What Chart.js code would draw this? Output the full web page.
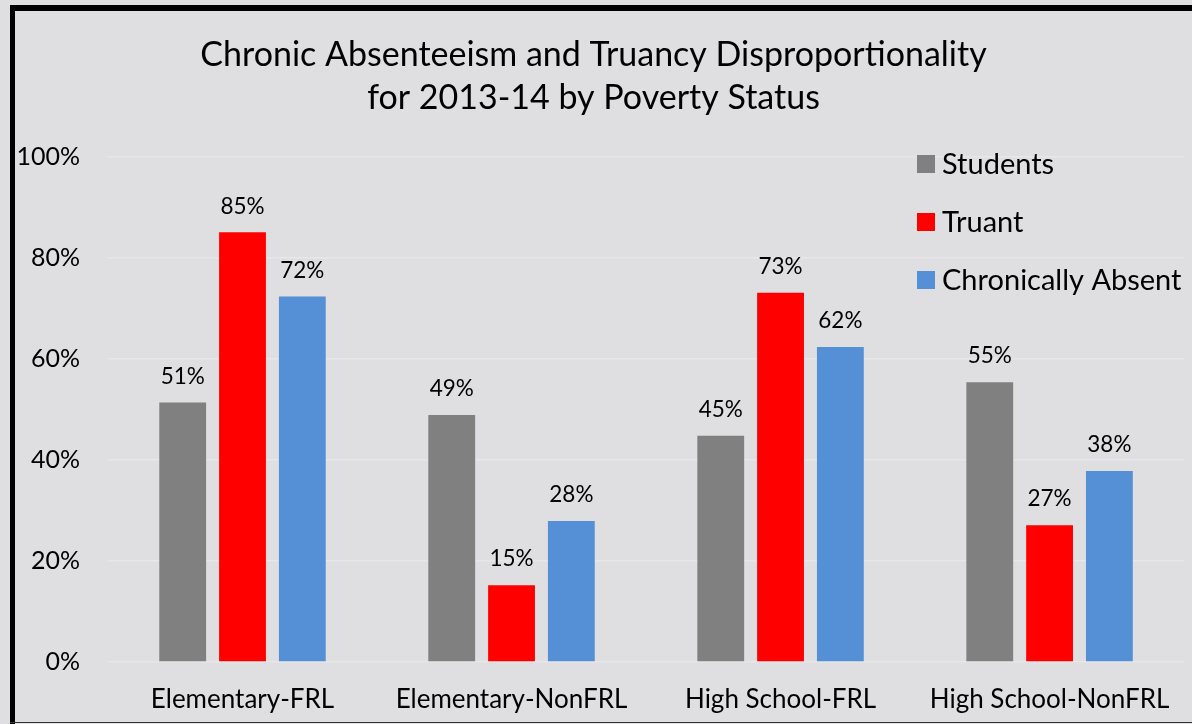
<!DOCTYPE html>
<html>
<head>
<meta charset="utf-8">
<script src="https://cdn.jsdelivr.net/npm/chart.js@4"></script>
<style>
  html, body { margin: 0; padding: 0; background: #dfdfe1; }
  #wrap { width: 1192px; height: 724px; }
</style>
</head>
<body>
<div id="wrap"><canvas id="povertyChart" width="1192" height="724"></canvas></div>
<script>
// Share of students, truants and chronically absent, by school level and FRL status
var categories = ['Elementary-FRL', 'Elementary-NonFRL', 'High School-FRL', 'High School-NonFRL'];
var studentsPct = [51.4, 48.9, 44.8, 55.4];
var truantPct = [85.1, 15.2, 73.1, 27.1];
var chronicPct = [72.4, 27.9, 62.4, 37.8];
var seriesNames = ['Students', 'Truant', 'Chronically Absent'];
var seriesColors = ['#808080', '#ff0000', '#5590d6'];

Chart.defaults.font.family = 'Lato, "Open Sans", sans-serif';
Chart.defaults.color = '#000';

// background and the black frame around the chart
var framePlugin = {
    id: 'frame',
    beforeDraw: function(chart) {
        var c = chart.ctx;
        c.save();
        c.fillStyle = '#dfdfe1';
        c.fillRect(0, 0, chart.width, chart.height);
        c.restore();
    },
    afterDraw: function(chart) {
        var c = chart.ctx;
        c.save();
        c.fillStyle = '#000';
        c.fillRect(10, 5, 5, chart.height - 5);
        c.fillRect(10, 5, chart.width - 10, 6);
        c.fillStyle = '#333';
        c.fillRect(10, 722, chart.width - 10, 1);
        c.restore();
    }
};

// percentage labels over each bar
var valueLabels = {
    id: 'valueLabels',
    afterDatasetsDraw: function(chart) {
        var c = chart.ctx;
        c.save();
        c.font = '22.5px Lato, "Open Sans", sans-serif';
        c.fillStyle = '#000';
        c.textAlign = 'center';
        c.textBaseline = 'middle';
        chart.data.datasets.forEach(function(ds, i) {
            chart.getDatasetMeta(i).data.forEach(function(bar, j) {
                c.fillText(Math.round(ds.data[j]) + '%', bar.x, bar.y - 26);
            });
        });
        c.restore();
    }
};

// legend stacked at the top right of the plot
var sideLegend = {
    id: 'sideLegend',
    afterDraw: function(chart) {
        var c = chart.ctx;
        c.save();
        c.font = '29px Lato, "Open Sans", sans-serif';
        c.textBaseline = 'middle';
        c.textAlign = 'left';
        chart.data.datasets.forEach(function(ds, i) {
            var y = 164 + i * 58;
            c.fillStyle = ds.backgroundColor;
            c.fillRect(917, y - 9, 18, 18);
            c.fillStyle = '#000';
            c.fillText(ds.label, 942, y + 1);
        });
        c.restore();
    }
};

var ctx = document.getElementById('povertyChart').getContext('2d');
var povertyChart = new Chart(ctx, {
    type: 'bar',
    data: {
        labels: categories,
        datasets: [
            { label: seriesNames[0], data: studentsPct, backgroundColor: seriesColors[0] },
            { label: seriesNames[1], data: truantPct, backgroundColor: seriesColors[1] },
            { label: seriesNames[2], data: chronicPct, backgroundColor: seriesColors[2] }
        ]
    },
    options: {
        responsive: false,
        animation: false,
        categoryPercentage: 0.667,
        barPercentage: 0.783,
        layout: { padding: { top: 0, right: 5, bottom: 0, left: 0 } },
        plugins: {
            legend: { display: false },
            tooltip: { enabled: false },
            title: {
                display: true,
                text: ['Chronic Absenteeism and Truancy Disproportionality', 'for 2013-14 by Poverty Status'],
                font: { size: 34, weight: 'normal', lineHeight: 1.265 },
                color: '#000',
                padding: { top: 34, bottom: 37 }
            }
        },
        scales: {
            x: {
                grid: { display: false, drawTicks: false },
                border: { display: false },
                ticks: { font: { size: 26 }, padding: 22, color: '#000' },
                afterFit: function(scale) { scale.height = 62; }
            },
            y: {
                min: 0,
                max: 100,
                grid: { color: '#e7e7e9', lineWidth: 1.5, drawTicks: false },
                border: { display: false },
                ticks: {
                    stepSize: 20,
                    padding: 28,
                    font: { size: 25 },
                    color: '#000',
                    callback: function(v) { return v + '%'; }
                },
                afterFit: function(scale) { scale.width = 108; }
            }
        }
    },
    plugins: [framePlugin, valueLabels, sideLegend]
});
</script>
</body>
</html>
